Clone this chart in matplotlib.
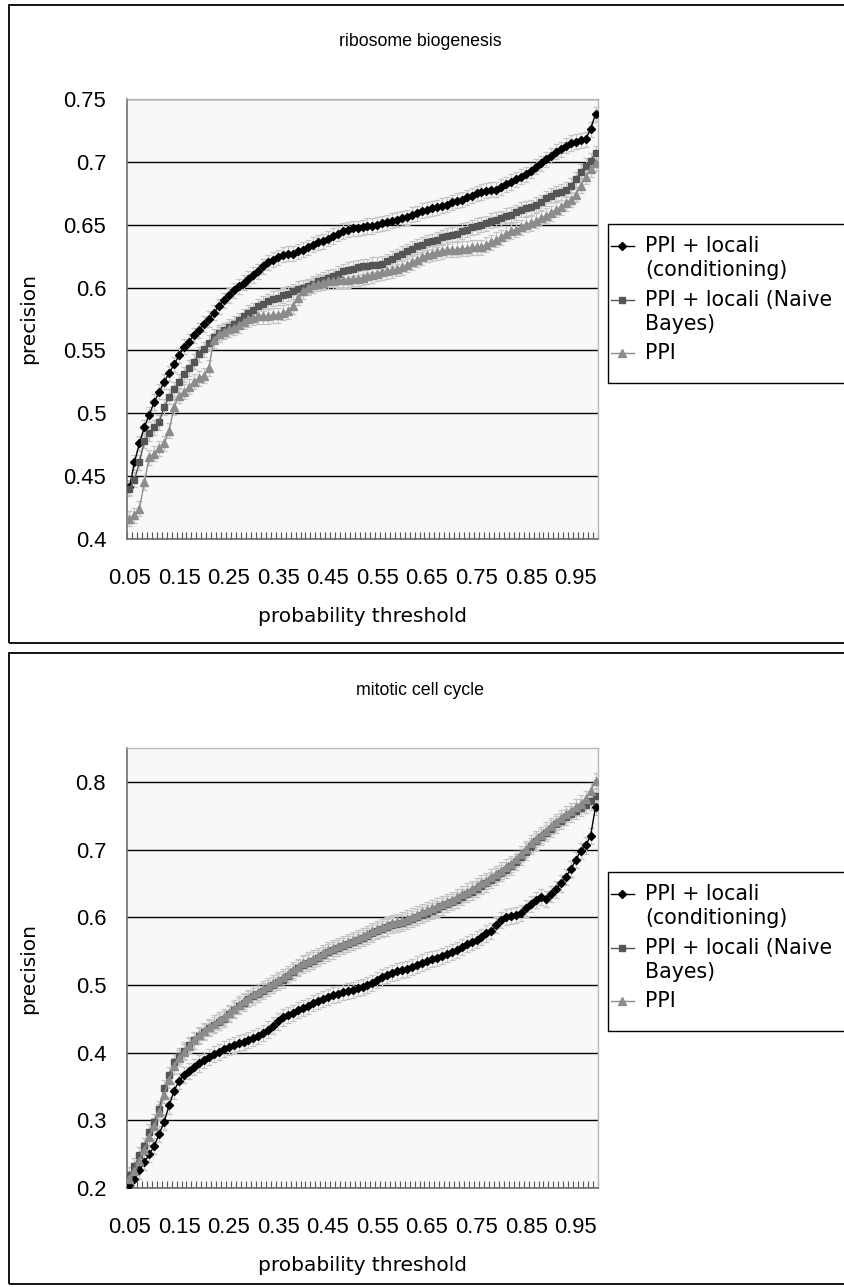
import matplotlib
matplotlib.use("Agg")
import matplotlib.pyplot as plt
from matplotlib.patches import Rectangle
from matplotlib.lines import Line2D
import numpy as np

# --- data: precision vs probability threshold (0.05 .. 0.99, step 0.01) ---
thresholds = [round(0.05 + 0.01 * k, 2) for k in range(95)]
tick_labels = ["0.05", "0.15", "0.25", "0.35", "0.45", "0.55", "0.65", "0.75", "0.85", "0.95"]
series_names = ["PPI + locali\n(conditioning)", "PPI + locali (Naive\nBayes)", "PPI"]

# ribosome biogenesis
ribo_cond = [0.441, 0.461, 0.476, 0.489, 0.499, 0.509, 0.517, 0.525, 0.532, 0.539,
             0.546, 0.553, 0.557, 0.562, 0.566, 0.571, 0.575, 0.580, 0.585, 0.590,
             0.594, 0.598, 0.601, 0.604, 0.607, 0.610, 0.613, 0.617, 0.620, 0.622,
             0.624, 0.626, 0.627, 0.627, 0.629, 0.630, 0.632, 0.634, 0.636, 0.637,
             0.639, 0.641, 0.643, 0.645, 0.646, 0.647, 0.647, 0.648, 0.649, 0.649,
             0.650, 0.651, 0.652, 0.653, 0.654, 0.655, 0.656, 0.658, 0.659, 0.661,
             0.662, 0.663, 0.664, 0.665, 0.666, 0.668, 0.669, 0.670, 0.672, 0.673,
             0.675, 0.676, 0.677, 0.678, 0.678, 0.680, 0.682, 0.684, 0.686, 0.688,
             0.690, 0.693, 0.696, 0.699, 0.702, 0.705, 0.708, 0.710, 0.713, 0.715,
             0.716, 0.717, 0.718, 0.726, 0.738]
ribo_nb = [0.440, 0.447, 0.461, 0.478, 0.484, 0.489, 0.493, 0.505, 0.513, 0.519,
           0.525, 0.531, 0.536, 0.541, 0.547, 0.551, 0.556, 0.561, 0.564, 0.566,
           0.569, 0.571, 0.574, 0.577, 0.580, 0.582, 0.585, 0.587, 0.589, 0.591,
           0.592, 0.594, 0.595, 0.597, 0.599, 0.600, 0.601, 0.603, 0.605, 0.606,
           0.608, 0.609, 0.611, 0.613, 0.614, 0.615, 0.616, 0.617, 0.617, 0.618,
           0.618, 0.619, 0.621, 0.623, 0.625, 0.627, 0.629, 0.631, 0.633, 0.634,
           0.636, 0.637, 0.638, 0.640, 0.641, 0.642, 0.643, 0.645, 0.646, 0.648,
           0.649, 0.650, 0.651, 0.653, 0.654, 0.655, 0.657, 0.658, 0.660, 0.662,
           0.663, 0.664, 0.666, 0.668, 0.671, 0.673, 0.675, 0.676, 0.678, 0.681,
           0.686, 0.692, 0.697, 0.701, 0.707]
ribo_ppi = [0.416, 0.419, 0.424, 0.445, 0.465, 0.468, 0.472, 0.476, 0.486, 0.505,
            0.514, 0.517, 0.521, 0.525, 0.528, 0.530, 0.536, 0.558, 0.563, 0.565,
            0.567, 0.568, 0.570, 0.573, 0.575, 0.576, 0.577, 0.577, 0.577, 0.578,
            0.578, 0.580, 0.581, 0.585, 0.592, 0.597, 0.600, 0.602, 0.603, 0.604,
            0.605, 0.605, 0.606, 0.606, 0.606, 0.607, 0.607, 0.608, 0.609, 0.610,
            0.611, 0.612, 0.613, 0.614, 0.615, 0.616, 0.618, 0.620, 0.622, 0.624,
            0.626, 0.627, 0.628, 0.629, 0.630, 0.630, 0.630, 0.631, 0.631, 0.632,
            0.632, 0.632, 0.634, 0.636, 0.638, 0.640, 0.643, 0.645, 0.646, 0.648,
            0.650, 0.651, 0.653, 0.655, 0.657, 0.659, 0.662, 0.664, 0.667, 0.670,
            0.674, 0.681, 0.688, 0.694, 0.699]

# mitotic cell cycle
mito_cond = [0.205, 0.213, 0.226, 0.238, 0.250, 0.262, 0.280, 0.298, 0.322, 0.344,
             0.358, 0.367, 0.373, 0.379, 0.384, 0.389, 0.394, 0.398, 0.401, 0.405,
             0.408, 0.411, 0.414, 0.416, 0.419, 0.422, 0.425, 0.429, 0.434, 0.440,
             0.446, 0.452, 0.456, 0.459, 0.463, 0.466, 0.469, 0.473, 0.476, 0.479,
             0.482, 0.485, 0.487, 0.489, 0.491, 0.493, 0.495, 0.497, 0.500, 0.503,
             0.507, 0.511, 0.515, 0.518, 0.520, 0.522, 0.524, 0.527, 0.530, 0.533,
             0.536, 0.538, 0.540, 0.543, 0.546, 0.549, 0.552, 0.556, 0.560, 0.563,
             0.567, 0.571, 0.576, 0.580, 0.588, 0.596, 0.600, 0.602, 0.603, 0.606,
             0.613, 0.620, 0.625, 0.630, 0.627, 0.634, 0.641, 0.650, 0.659, 0.671,
             0.684, 0.698, 0.706, 0.720, 0.763]
mito_nb = [0.219, 0.232, 0.249, 0.262, 0.283, 0.298, 0.317, 0.347, 0.367, 0.386,
           0.395, 0.403, 0.411, 0.418, 0.425, 0.431, 0.436, 0.441, 0.445, 0.450,
           0.457, 0.463, 0.469, 0.474, 0.479, 0.483, 0.487, 0.491, 0.495, 0.500,
           0.504, 0.508, 0.513, 0.519, 0.525, 0.530, 0.533, 0.536, 0.540, 0.544,
           0.548, 0.551, 0.554, 0.557, 0.560, 0.563, 0.566, 0.569, 0.572, 0.576,
           0.580, 0.583, 0.585, 0.588, 0.590, 0.592, 0.594, 0.597, 0.600, 0.603,
           0.606, 0.609, 0.612, 0.616, 0.619, 0.622, 0.626, 0.630, 0.634, 0.638,
           0.642, 0.646, 0.650, 0.655, 0.660, 0.665, 0.670, 0.675, 0.682, 0.689,
           0.697, 0.705, 0.712, 0.718, 0.724, 0.731, 0.737, 0.742, 0.748, 0.753,
           0.757, 0.762, 0.766, 0.771, 0.779]
mito_ppi = [0.213, 0.225, 0.240, 0.256, 0.275, 0.292, 0.312, 0.338, 0.360, 0.380,
            0.392, 0.401, 0.410, 0.418, 0.426, 0.432, 0.438, 0.443, 0.448, 0.453,
            0.459, 0.465, 0.471, 0.476, 0.481, 0.486, 0.490, 0.494, 0.498, 0.503,
            0.507, 0.511, 0.516, 0.522, 0.527, 0.532, 0.536, 0.539, 0.543, 0.547,
            0.551, 0.554, 0.557, 0.560, 0.563, 0.566, 0.569, 0.572, 0.575, 0.579,
            0.582, 0.585, 0.588, 0.591, 0.593, 0.595, 0.598, 0.601, 0.604, 0.607,
            0.610, 0.613, 0.616, 0.620, 0.623, 0.626, 0.630, 0.634, 0.638, 0.642,
            0.646, 0.650, 0.654, 0.659, 0.664, 0.669, 0.674, 0.679, 0.686, 0.693,
            0.701, 0.709, 0.716, 0.722, 0.728, 0.735, 0.741, 0.747, 0.752, 0.757,
            0.763, 0.768, 0.775, 0.787, 0.801]

ribo_err = 0.006
mito_err = 0.012

# --- styling ---
W, H = 845, 1287
TICK_FONT = "Liberation Sans"
LAB_FONT = "DejaVu Sans"
styles = [dict(color="black", marker="D", ms=3.8),
          dict(color="#555555", marker="s", ms=4.6),
          dict(color="#8c8c8c", marker="^", ms=5.2)]

fig = plt.figure(figsize=(W / 100, H / 100), dpi=100)


def fx(px):
    return px / W


def fy(py):
    return 1 - py / H


def panel(top, bottom, ax_top, ax_bot, title, series, err, ylim, yticks, leg_top):
    # chart area border (runs off the right edge)
    fig.add_artist(Rectangle((fx(9), fy(bottom)), 1.2, (bottom - top) / H,
                             transform=fig.transFigure, fill=False, ec="black", lw=1.3))
    ax = fig.add_axes([fx(127), fy(ax_bot), fx(598) - fx(127), (ax_bot - ax_top) / H])
    ax.set_facecolor("#f8f8f8")
    xs = np.arange(len(thresholds))
    for vals in series:
        ax.errorbar(xs, vals, yerr=err, fmt="none", ecolor="#c4c4c4", elinewidth=0.9,
                    capsize=2.5, capthick=0.9, zorder=2)
    for vals, st in zip(series, styles):
        ax.plot(xs, vals, color=st["color"], marker=st["marker"], ms=st["ms"], lw=1.0,
                mec=st["color"], zorder=3)
    ax.set_xlim(-0.5, len(thresholds) - 0.5)
    ax.set_ylim(*ylim)
    ax.set_yticks(yticks)
    ax.set_yticklabels([f"{v:g}" for v in yticks], fontsize=15.8, fontfamily=TICK_FONT)
    ax.tick_params(axis="y", length=0, pad=15)
    ax.yaxis.grid(True, color="black", lw=1.0)
    ax.set_axisbelow(True)
    # category boundaries as inside tick marks, labels every 10th category
    ax.set_xticks(np.arange(-0.5, len(thresholds)), labels=[])
    ax.tick_params(axis="x", which="major", direction="in", length=5, width=0.8, color="#555555")
    ax.set_xticks(xs[::10], labels=tick_labels, minor=True)
    ax.tick_params(axis="x", which="minor", length=0, pad=21, labelsize=15.8)
    for lab in ax.get_xticklabels(minor=True):
        lab.set_fontfamily(TICK_FONT)
    for side in ("left", "bottom"):
        ax.spines[side].set_color("#6e6e6e")
        ax.spines[side].set_linewidth(1.2)
    for side in ("top", "right"):
        ax.spines[side].set_color("#b8b8b8")
        ax.spines[side].set_linewidth(1.0)
    ax.set_ylabel("precision", fontsize=14.5, fontfamily=LAB_FONT)
    ax.yaxis.set_label_coords((38 - 127) / 471, 0.5)
    ax.set_xlabel("probability threshold", fontsize=14.5, fontfamily=LAB_FONT, labelpad=13)
    fig.text(fx(420), fy(top + 37), title, ha="center", va="center",
             fontsize=12.8, fontfamily=TICK_FONT)

    # legend box (runs off the right edge)
    fig.add_artist(Rectangle((fx(608), fy(leg_top + 159)), 1.0, 159 / H,
                             transform=fig.transFigure, fill=False, ec="black", lw=1.0))
    rows = [leg_top + 22, leg_top + 76, leg_top + 129]
    for name, st, ry in zip(series_names, styles, rows):
        fig.add_artist(Line2D([fx(611), fx(634)], [fy(ry), fy(ry)], transform=fig.transFigure,
                              color=st["color"], lw=1.0))
        fig.add_artist(Line2D([fx(622)], [fy(ry)], transform=fig.transFigure, ls="none",
                              marker=st["marker"], ms=st["ms"], color=st["color"]))
        fig.text(fx(645), fy(ry - 10), name, ha="left", va="top", fontsize=14.8,
                 fontfamily=LAB_FONT, linespacing=1.22)


panel(5, 643, 99, 539, "ribosome biogenesis", [ribo_cond, ribo_nb, ribo_ppi], ribo_err,
      (0.4, 0.75), [0.4, 0.45, 0.5, 0.55, 0.6, 0.65, 0.7, 0.75], 224)
panel(653, 1284, 748, 1188, "mitotic cell cycle", [mito_cond, mito_nb, mito_ppi], mito_err,
      (0.2, 0.85), [0.2, 0.3, 0.4, 0.5, 0.6, 0.7, 0.8], 872)

fig.savefig("out.png", dpi=100)
